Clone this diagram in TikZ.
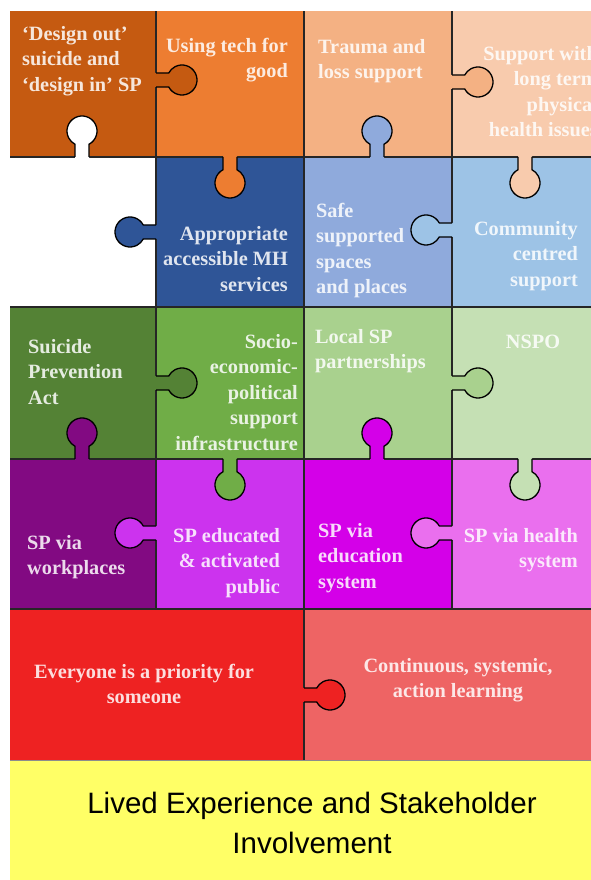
\documentclass[tikz,border=0pt]{standalone}
\usepackage{fontspec}
\setmainfont{Liberation Serif}
\setsansfont{Liberation Sans}

\definecolor{rust}{HTML}{C55A11}
\definecolor{orng}{HTML}{ED7D31}
\definecolor{peach}{HTML}{F4B183}
\definecolor{paleorng}{HTML}{F8CBAD}
\definecolor{navy}{HTML}{2F5597}
\definecolor{midblue}{HTML}{8FAADC}
\definecolor{skyblue}{HTML}{9DC3E6}
\definecolor{darkgrn}{HTML}{548235}
\definecolor{grn}{HTML}{70AD47}
\definecolor{lightgrn}{HTML}{A9D18E}
\definecolor{palegrn}{HTML}{C5E0B4}
\definecolor{plum}{HTML}{820A82}
\definecolor{violet}{HTML}{CC33EE}
\definecolor{magenta}{HTML}{D400E8}
\definecolor{pinkish}{HTML}{EA6FEE}
\definecolor{brightred}{HTML}{EE2222}
\definecolor{salmon}{HTML}{EE6464}
\definecolor{lemon}{HTML}{FFFF66}

% tab: base x, base y, direction, colour
\newcommand{\knob}[4]{%
  \begin{scope}[shift = {(#1, #2)}, rotate = #3]
    \fill[#4] (-2, -7) -- (12.73, -7) arc[start angle = -152.2, end angle = 152.2, radius = 15] -- (-2, 7) -- cycle;
    \draw[tab] (0, -7) -- (12.73, -7) arc[start angle = -152.2, end angle = 152.2, radius = 15] -- (0, 7);
  \end{scope}}

\begin{document}
\begin{tikzpicture}[x = 1pt, y = 1pt,
    seam/.style = {line width = 1.4pt, draw = black!85},
    tab/.style = {line width = 1.3pt, draw = black, line join = round},
    lbl/.style = {font = {\bfseries\fontsize{20.3}{25.5}\selectfont}, text = white, text opacity = 0.85, inner sep = 0pt}]
    \useasboundingbox (0, 0) rectangle (591, 880);

    % pieces
    \fill[rust] (10, 723) rectangle (156, 869);
    \fill[orng] (156, 723) rectangle (304, 869);
    \fill[peach] (304, 723) rectangle (452, 869);
    \fill[paleorng] (452, 723) rectangle (595, 869);
    \fill[navy] (156, 573) rectangle (304, 723);
    \fill[midblue] (304, 573) rectangle (452, 723);
    \fill[skyblue] (452, 573) rectangle (595, 723);
    \fill[darkgrn] (10, 421) rectangle (156, 573);
    \fill[grn] (156, 421) rectangle (304, 573);
    \fill[lightgrn] (304, 421) rectangle (452, 573);
    \fill[palegrn] (452, 421) rectangle (595, 573);
    \fill[plum] (10, 271) rectangle (156, 421);
    \fill[violet] (156, 271) rectangle (304, 421);
    \fill[magenta] (304, 271) rectangle (452, 421);
    \fill[pinkish] (452, 271) rectangle (595, 421);
    \fill[brightred] (10, 119) rectangle (304, 271);
    \fill[salmon] (304, 119) rectangle (595, 271);
    \fill[lemon] (10, -5) rectangle (595, 119);

    % seams
    \draw[seam] (156, 271) -- (156, 869);
    \draw[seam] (304, 119) -- (304, 869);
    \draw[seam] (452, 271) -- (452, 869);
    \draw[seam] (10, 723) -- (595, 723);
    \draw[seam] (10, 573) -- (595, 573);
    \draw[seam] (10, 421) -- (595, 421);
    \draw[seam] (10, 271) -- (595, 271);
    \draw[line width = 1pt, draw = black!45] (10, 119) -- (595, 119);

    % tabs
    \knob{156}{800}{0}{rust}
    \knob{452}{798}{0}{peach}
    \knob{156}{648}{180}{navy}
    \knob{452}{650}{180}{skyblue}
    \knob{156}{497}{0}{darkgrn}
    \knob{452}{497}{0}{lightgrn}
    \knob{156}{347}{180}{violet}
    \knob{452}{347}{180}{pinkish}
    \knob{304}{185}{0}{brightred}
    \knob{82}{723}{90}{white}
    \knob{230}{723}{270}{orng}
    \knob{377}{723}{90}{midblue}
    \knob{525}{723}{270}{paleorng}
    \knob{82}{421}{90}{plum}
    \knob{230}{421}{270}{grn}
    \knob{377}{421}{90}{magenta}
    \knob{525}{421}{270}{palegrn}

    % labels
    \node[lbl, anchor = north west, align = left] (design) at (22, 854) {‘Design out’\\suicide and\\‘design in’ SP};
    \node[lbl, anchor = north east, align = right] (tech) at (288, 842) {Using tech for\\good};
    \node[lbl, anchor = north west, align = left] (trauma) at (318, 841) {Trauma and\\loss support};
    \node[lbl, anchor = north east, align = right] (physical) at (598, 834) {Support with\\long term\\physical\\health issues};
    \node[lbl, anchor = north east, align = right] (mh) at (288, 654) {Appropriate\\accessible MH\\services};
    \node[lbl, anchor = north west, align = left] (safe) at (316, 677) {Safe\\supported\\spaces\\and places};
    \node[lbl, anchor = north east, align = right] (community) at (578, 659) {Community\\centred\\support};
    \node[lbl, anchor = north west, align = left] (act) at (28, 541) {Suicide\\Prevention\\Act};
    \node[lbl, anchor = north east, align = right] (socio) at (298, 546) {Socio-\\economic-\\political\\support\\infrastructure};
    \node[lbl, anchor = north west, align = left] (local) at (315, 551) {Local SP\\partnerships};
    \node[lbl, anchor = north] (nspo) at (533, 545) {NSPO};
    \node[lbl, anchor = north west, align = left] (work) at (27, 345) {SP via\\workplaces};
    \node[lbl, anchor = north east, align = right] (public) at (280, 352) {SP educated\\\& activated\\public};
    \node[lbl, anchor = north west, align = left] (school) at (318, 357) {SP via\\education\\system};
    \node[lbl, anchor = north east, align = right] (health) at (578, 352) {SP via health\\system};
    \node[lbl, anchor = north, align = center] (priority) at (144, 216) {Everyone is a priority for\\someone};
    \node[lbl, anchor = north, align = center] (learning) at (458, 222) {Continuous, systemic,\\action learning};
    \node[font = {\sffamily\fontsize{29.5}{40}\selectfont}, text = black, align = center, inner sep = 0pt] (lived) at (312, 57) {Lived Experience and Stakeholder\\Involvement};
\end{tikzpicture}
\end{document}
